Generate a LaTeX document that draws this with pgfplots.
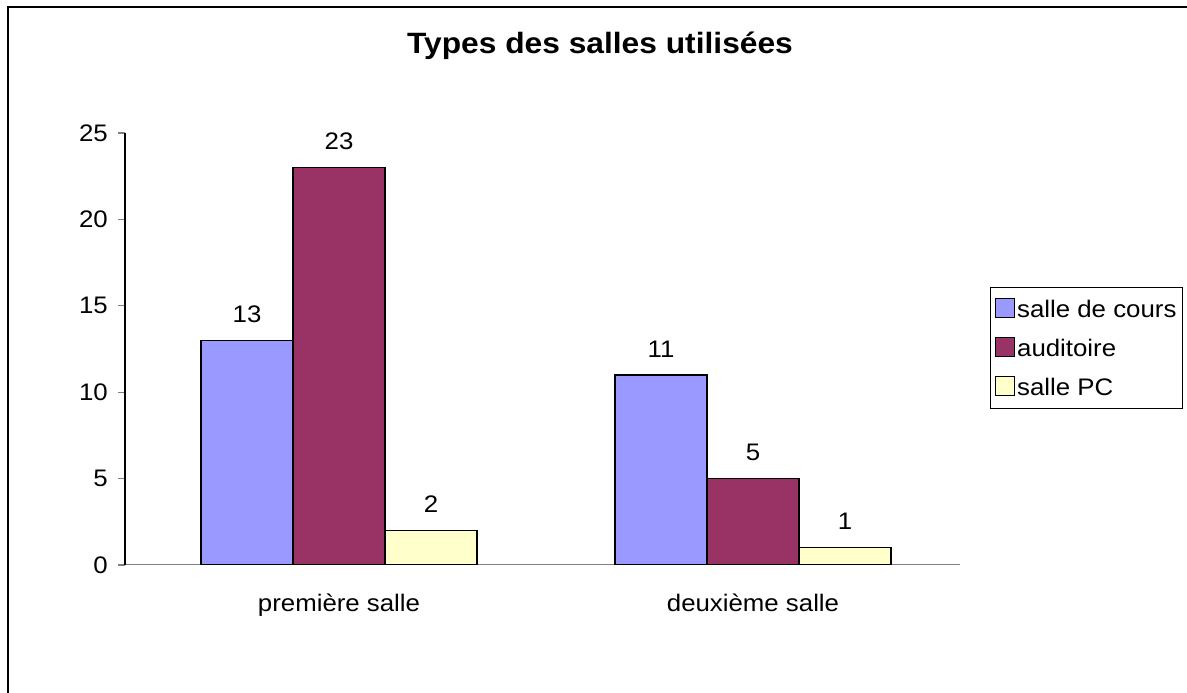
\documentclass[border=0pt]{standalone}
\usepackage{fontspec}
\setmainfont{Liberation Sans}[FakeStretch=1.08]
\usepackage{pgfplots}
\pgfplotsset{compat=1.18}
\pgfkeys{/pgf/number format/assume math mode=true}
\definecolor{cblue}{HTML}{9999FF}
\definecolor{cmaroon}{HTML}{993366}
\definecolor{cyellow}{HTML}{FFFFCC}
\definecolor{axgray}{HTML}{808080}
\begin{document}
\begin{tikzpicture}[x=1bp,y=1bp]
\useasboundingbox (0,0) rectangle (1187,693);
\draw[line width=2bp] (1187,686) -- (8,686) -- (8,0);
\node[font=\fontsize{29.5}{34}\selectfont\bfseries] at (600,647) {Types des salles utilisées};
\begin{axis}[
  at={(125bp,128bp)}, anchor=south west,
  scale only axis, width=835bp, height=432bp,
  ybar=0pt, bar width=92bp,
  xmin=-0.517, xmax=1.5, ymin=0, ymax=25,
  axis x line=bottom, axis y line=left,
  x axis line style={-, draw=axgray, line width=1bp},
  y axis line style={-, draw=black, line width=1.2bp},
  xtick={0,1}, xticklabels={première salle, deuxième salle},
  major x tick style={draw=none},
  extra x ticks={-0.517,0.5,1.5}, extra x tick labels={},
  extra x tick style={major tick length=8bp, tick align=outside, tick style={draw=black, line width=1bp}},
  ytick={0,5,10,15,20,25},
  y tick style={draw=axgray, line width=1.2bp},
  tick align=outside, major tick length=7bp,
  xticklabel style={font=\fontsize{24}{28}\selectfont, inner sep=0pt, anchor=north, yshift=-22bp},
  yticklabel style={font=\fontsize{24}{28}\selectfont, inner sep=0pt, anchor=east, xshift=-10bp},
  nodes near coords,
  every node near coord/.append style={font=\fontsize{24}{28}\selectfont, anchor=south, inner sep=0pt, yshift=17bp, text=black},
  legend style={at={(1.267,0.6435)}, anchor=north east, draw=black, line width=1bp,
    font=\fontsize{24}{28}\selectfont, inner xsep=4bp, inner ysep=10bp,
    row sep=16bp, cells={anchor=west}},
  legend image code/.code={\draw[#1, line width=1.5bp] (0bp,-8bp) rectangle (19bp,11bp);},
]
\addplot[fill=cblue, draw=black, line width=1.5bp] coordinates {(0,13) (1,11)};
\addplot[fill=cmaroon, draw=black, line width=1.5bp] coordinates {(0,23) (1,5)};
\addplot[fill=cyellow, draw=black, line width=1.5bp] coordinates {(0,2) (1,1)};
\legend{salle de cours, auditoire, salle PC}
\end{axis}
\end{tikzpicture}
\end{document}
